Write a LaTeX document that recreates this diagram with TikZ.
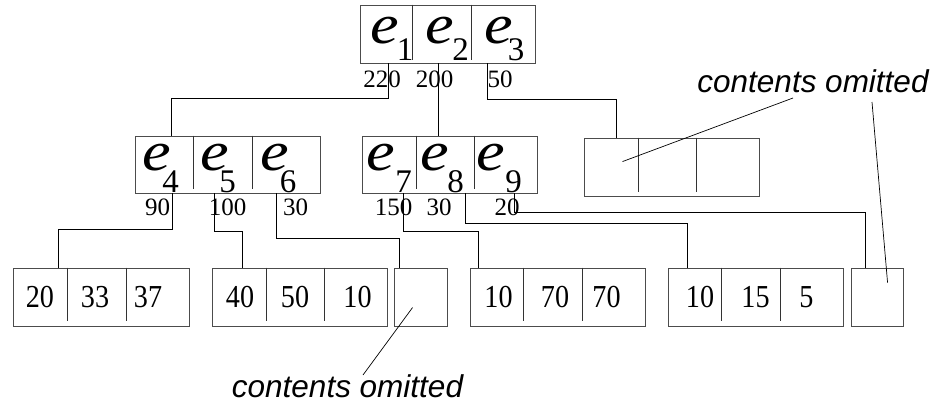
\documentclass[tikz,border=0pt]{standalone}
\usepackage{graphicx}
\usepackage{fontspec}
\setmainfont{Liberation Serif}
\newfontfamily\notefont{Liberation Sans}
% entry label: italic e, a kern, then the lowered index
\newcommand\entrylabel[3]{\scalebox{1.15}[1]{\fontsize{56}{56}\selectfont\itshape e}\kern#1pt\raisebox{#2pt}{\fontsize{33}{33}\selectfont #3}}
\newcommand\leafval[1]{\scalebox{0.88}[1]{#1}}
\begin{document}
\begin{tikzpicture}[x=1pt,y=-1pt,
  rec/.style={draw=black!70, line width=0.9pt, inner sep=0pt, minimum height=58pt},
  sep/.style={draw=black!80, line width=0.8pt},
  link/.style={draw=black, line width=0.8pt},
  ptr/.style={draw=black, line width=0.7pt},
  elab/.style={inner sep=0pt, anchor=base west},
  wt/.style={inner sep=0pt, anchor=base, font=\fontsize{25}{25}\selectfont},
  val/.style={inner sep=0pt, anchor=base, font=\fontsize{32}{32}\selectfont},
  note/.style={inner sep=0pt, anchor=base, font=\fontsize{31.5}{31.5}\notefont\itshape}]
\useasboundingbox (0,0) rectangle (943,405);

% ---------- boxes ----------
\node[rec, minimum width=175pt, minimum height=58pt] (r)  at (447.5,34)  {};
\node[rec, minimum width=185pt, minimum height=57pt] (a)  at (227.5,164.5) {};
\node[rec, minimum width=175pt, minimum height=57pt] (b)  at (449.5,164.5) {};
\node[rec, minimum width=175pt] (c)  at (671.5,167) {};
\node[rec, minimum width=176pt] (l1) at (101,297) {};
\node[rec, minimum width=175pt] (l2) at (299.5,297) {};
\node[rec, minimum width=53pt]  (l3) at (420.5,297) {};
\node[rec, minimum width=175pt] (l4) at (557.5,297) {};
\node[rec, minimum width=175pt] (l5) at (755.5,297) {};
\node[rec, minimum width=52pt]  (l6) at (877,297) {};

% ---------- cell dividers ----------
\foreach \dx in {53,112} \draw[sep] ([xshift=\dx]r.north west) -- ++(0,55);
\foreach \dx in {59,118} \draw[sep] ([xshift=\dx]a.north west) -- ++(0,53);
\foreach \dx in {55,113} \draw[sep] ([xshift=\dx]b.north west) -- ++(0,53);
\foreach \dx in {55,113} \draw[sep] ([xshift=\dx]c.north west) -- ++(0,54);
\foreach \dx in {55,114} \draw[sep] ([xshift=\dx]l1.north west) -- ++(0,53);
\foreach \dx in {55,113} \draw[sep] ([xshift=\dx]l2.north west) -- ++(0,53);
\foreach \dx in {54,113} \draw[sep] ([xshift=\dx]l4.north west) -- ++(0,53);
\foreach \dx in {54,113} \draw[sep] ([xshift=\dx]l5.north west) -- ++(0,53);

% ---------- entry labels ----------
\node[elab] (e1) at (370.2,43)  {\entrylabel{-2}{-17}{1}};
\node[elab] (e2) at (425.2,43)  {\entrylabel{-1.5}{-17}{2}};
\node[elab] (e3) at (484.2,43)  {\entrylabel{-5}{-17}{3}};
\node[elab] (e4) at (142.2,170) {\entrylabel{-8.5}{-22}{4}};
\node[elab] (e5) at (200.2,170) {\entrylabel{-9.5}{-22}{5}};
\node[elab] (e6) at (260.7,170) {\entrylabel{-9.5}{-22}{6}};
\node[elab] (e7) at (366.2,170) {\entrylabel{0.5}{-22}{7}};
\node[elab] (e8) at (420.2,170) {\entrylabel{-1.5}{-22}{8}};
\node[elab] (e9) at (476.2,170) {\entrylabel{0.5}{-22}{9}};

% ---------- weights ----------
\node[wt] (w1) at (382,87) {220};
\node[wt] (w2) at (434.5,87) {200};
\node[wt] (w3) at (500,87) {50};
\node[wt] (w4) at (157.5,215) {90};
\node[wt] (w5) at (227.5,215) {100};
\node[wt] (w6) at (295.5,215) {30};
\node[wt] (w7) at (393.5,215) {150};
\node[wt] (w8) at (439,215) {30};
\node[wt] (w9) at (507,215) {20};

% ---------- leaf values ----------
\node[val] at (40,307) {\leafval{20}};
\node[val] at (95,307) {\leafval{33}};
\node[val] at (148,307) {\leafval{37}};
\node[val] at (240,307) {\leafval{40}};
\node[val] at (295,307) {\leafval{50}};
\node[val] at (357.5,307) {\leafval{10}};
\node[val] at (498.5,307) {\leafval{10}};
\node[val] at (555,307) {\leafval{70}};
\node[val] at (606.5,307) {\leafval{70}};
\node[val] at (700,307) {\leafval{10}};
\node[val] at (755.5,307) {\leafval{15}};
\node[val] at (806.5,307) {\leafval{5}};

% ---------- child links ----------
\draw[link] ([xshift=28.5]r.south west) -- ++(0,35) -| ([xshift=37]a.north west);
\draw[link] ([xshift=78.5]r.south west) -- ([xshift=78.5]r.south west |- b.north);
\draw[link] ([xshift=128]r.south west) -- ++(0,36) -| ([xshift=33]c.north west);
\draw[link] ([xshift=38]a.south west) -- ++(0,36) -| ([xshift=46]l1.north west);
\draw[link] ([xshift=80]a.south west) -- ++(0,38) -| ([xshift=31]l2.north west);
\draw[link] ([xshift=142]a.south west) -- ++(0,45) -| ([xshift=6]l3.north west);
\draw[link] ([xshift=42]b.south west) -- ++(0,38) -| ([xshift=9]l4.north west);
\draw[link] ([xshift=104]b.south west) -- ++(0,30) -| ([xshift=20]l5.north west);
\draw[link] ([xshift=153]b.south west) -- ++(0,19) -| ([xshift=15]l6.north west);

% ---------- notes ----------
\node[note] (nt) at (813,92) {contents omitted};
\node[note] (nb) at (347.5,397) {contents omitted};
\coordinate (pt1) at (793,98);
\coordinate (pt2) at (872,102);
\coordinate (pb) at (363,375);
\draw[ptr] (pt1) -- ([xshift=39,yshift=-24]c.north west);
\draw[ptr] (pt2) -- ([xshift=37,yshift=-15]l6.north west);
\draw[ptr] (pb) -- ([xshift=19,yshift=-40]l3.north west);
\end{tikzpicture}
\end{document}
